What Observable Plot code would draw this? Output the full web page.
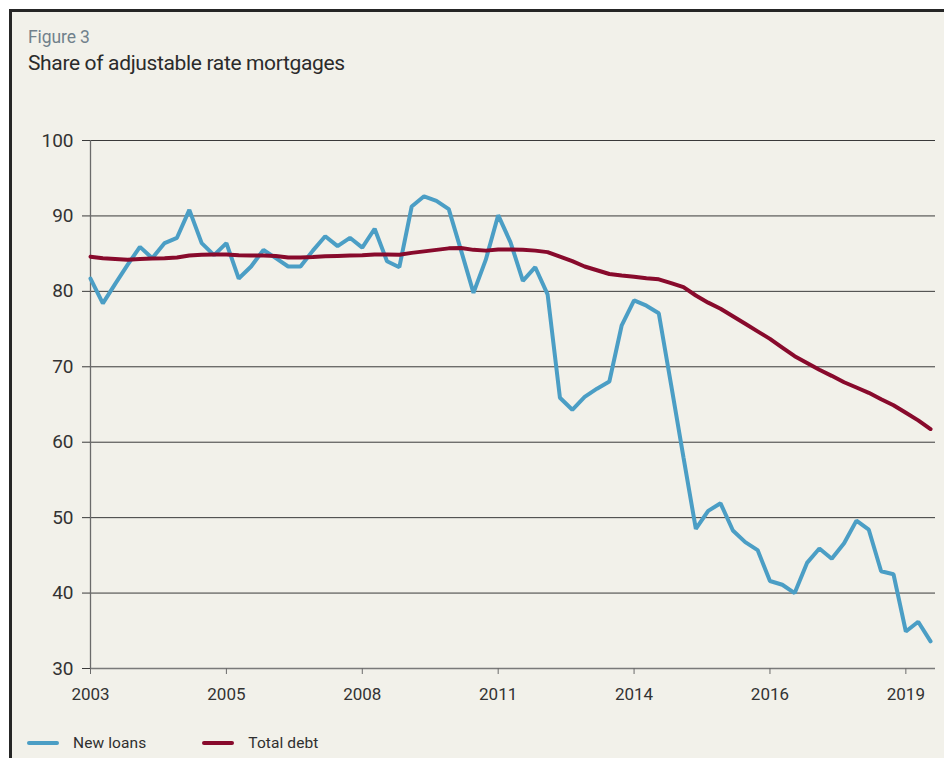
<!DOCTYPE html>
<html>
<head>
<meta charset="utf-8">
<script src="https://cdn.jsdelivr.net/npm/d3@7"></script>
<script src="https://cdn.jsdelivr.net/npm/@observablehq/plot@0.6"></script>
<style>
  html, body { margin: 0; padding: 0; background: #ffffff; }
  body { width: 944px; height: 758px; overflow: hidden; position: relative;
         font-family: Roboto, "Liberation Sans", sans-serif; }
  #frame { position: absolute; left: 9px; top: 9px; width: 980px; height: 800px;
           border: 3px solid #262626; background: #f2f1ea; }
  #kicker { position: absolute; left: 16px; top: 16px; font-size: 17.5px; line-height: 18px;
            color: #71818c; white-space: nowrap; letter-spacing: -0.1px; }
  #title { position: absolute; left: 16px; top: 40px; font-size: 21px; line-height: 23px;
           color: #2b2b2b; white-space: nowrap; letter-spacing: -0.35px; }
  #chart { position: absolute; left: 0px; top: 98px; }
  #legend { position: absolute; left: 15px; top: 722px; font-size: 15.5px; line-height: 18px;
            color: #2f2f2f; white-space: nowrap; display: flex; align-items: center; letter-spacing: 0.1px; }
  .item { display: flex; align-items: center; }
  .sw { display: inline-block; width: 32px; height: 4px; border-radius: 2px; margin-right: 14px; }
</style>
</head>
<body>
<div id="frame">
  <div id="kicker">Figure 3</div>
  <div id="title">Share of adjustable rate mortgages</div>
  <div id="chart"></div>
  <div id="legend"></div>
</div>
<script>
// Quarterly observations, 2003 Q1 to 2020 Q1
const newLoans = [
  81.7, 78.4, 81.0, 83.5, 85.9, 84.4, 86.4, 87.1, 90.8, 86.4,
  84.8, 86.4, 81.7, 83.3, 85.5, 84.4, 83.3, 83.3, 85.4, 87.3,
  86.0, 87.1, 85.8, 88.3, 84.0, 83.2, 91.25, 92.6, 92.0, 90.9,
  85.4, 79.8, 84.2, 90.1, 86.5, 81.4, 83.2, 79.6, 65.9, 64.3,
  66.0, 67.1, 68.05, 75.5, 78.8, 78.1, 77.1, 67.6, 58.0, 48.5,
  50.9, 51.9, 48.3, 46.75, 45.7, 41.6, 41.1, 40.0, 44.0, 45.9,
  44.55, 46.6, 49.6, 48.4, 42.9, 42.5, 34.9, 36.2, 33.6
];
const totalDebt = [
  84.6, 84.4, 84.3, 84.2, 84.3, 84.35, 84.4, 84.5, 84.75, 84.85,
  84.9, 84.9, 84.8, 84.75, 84.75, 84.7, 84.5, 84.5, 84.55, 84.65,
  84.7, 84.75, 84.8, 84.9, 84.9, 84.85, 85.1, 85.3, 85.5, 85.7,
  85.75, 85.5, 85.4, 85.55, 85.55, 85.5, 85.4, 85.2, 84.6, 84.0,
  83.3, 82.8, 82.3, 82.1, 81.95, 81.75, 81.6, 81.1, 80.55, 79.45,
  78.5, 77.7, 76.7, 75.7, 74.7, 73.7, 72.55, 71.4, 70.5, 69.6,
  68.8, 67.95, 67.25, 66.55, 65.7, 64.9, 63.9, 62.9, 61.75
];
const seriesNames = ["New loans", "Total debt"];
const seriesColors = ["#4b9ec5", "#880a2c"];
// x tick labels (every 11th quarter, counting from 2003 Q1)
const xTickQuarters = [0, 11, 22, 33, 44, 55, 66];
const xTickLabels = ["2003", "2005", "2008", "2011", "2014", "2016", "2019"];
const yTicks = [30, 40, 50, 60, 70, 80, 90, 100];

const rows = newLoans.map((v, i) => ({q: i, newLoans: v, totalDebt: totalDebt[i]}));

const chart = Plot.plot({
  width: 932,
  height: 600,
  marginLeft: 78,
  marginRight: 9,
  marginTop: 30,
  marginBottom: 42,
  style: {background: "transparent", fontFamily: "Roboto, 'Liberation Sans', sans-serif", color: "#333"},
  x: {domain: [0, 68.4]},
  y: {domain: [30, 100]},
  marks: [
    Plot.ruleY(yTicks.filter(d => d > 30), {stroke: "#3a3a3a", strokeWidth: 1}),
    Plot.ruleY([30], {stroke: "#7a7a7a", strokeWidth: 1.6}),
    Plot.ruleX([0], {y1: 30, y2: 100, stroke: "#6b6b6b", strokeWidth: 1.3}),
    Plot.axisY({ticks: yTicks, tickSize: 8, tickPadding: 9, fontSize: 19, letterSpacing: -0.6, stroke: "#3a3a3a", label: null}),
    Plot.axisX({ticks: xTickQuarters, tickFormat: d => xTickLabels[xTickQuarters.indexOf(d)],
                tickSize: 6, tickPadding: 13, fontSize: 17, letterSpacing: -0.6, stroke: "#6b6b6b", label: null}),
    Plot.line(rows, {x: "q", y: "newLoans", stroke: seriesColors[0], strokeWidth: 4, strokeLinejoin: "miter"}),
    Plot.line(rows, {x: "q", y: "totalDebt", stroke: seriesColors[1], strokeWidth: 4, strokeLinejoin: "round", strokeLinecap: "round"})
  ]
});
document.getElementById("chart").appendChild(chart);

const legend = document.getElementById("legend");
seriesNames.forEach((name, i) => {
  const item = document.createElement("div");
  item.className = "item";
  item.style.marginRight = i === 0 ? "56px" : "0px";
  const sw = document.createElement("span");
  sw.className = "sw";
  sw.style.background = seriesColors[i];
  item.appendChild(sw);
  const t = document.createElement("span");
  t.textContent = name;
  item.appendChild(t);
  legend.appendChild(item);
});
</script>
</body>
</html>
